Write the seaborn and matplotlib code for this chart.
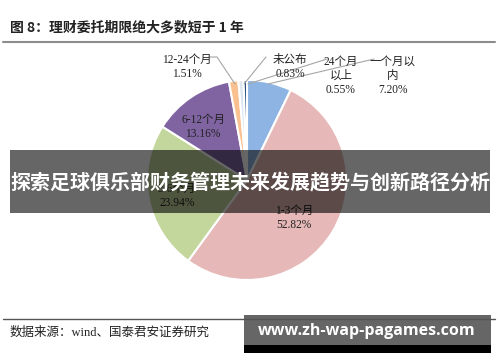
import matplotlib
matplotlib.use("Agg")
import matplotlib.pyplot as plt
import seaborn as sns
from matplotlib.patches import Rectangle
from matplotlib.lines import Line2D

# data (clockwise from 12 o'clock)
labels = ["一个月以内", "1-3个月", "3-6个月", "6-12个月", "12-24个月", "未公布", "24个月以上"]
shares = [7.20, 52.82, 23.94, 13.16, 1.51, 0.83, 0.55]
label_text = ["一个月以\n内\n7.20%", "1-3个月\n52.82%", "3-6个月\n23.94%", "6-12个月\n13.16%",
              "12-24个月\n1.51%", "未公布\n0.83%", "24个月\n以上\n0.55%"]
slice_colors = ["#8db4e2", "#e6b9b8", "#c3d69b", "#8064a2", "#fac090", "#dce6f2", "#1f497d"]

title = "图 8：理财委托期限绝大多数短于 1 年"
source = "数据来源：wind、国泰君安证券研究"
banner = "探索足球俱乐部财务管理未来发展趋势与创新路径分析"
watermark = "www.zh-wap-pagames.com"

sns.set_theme(style="white")
plt.rcParams["font.family"] = ["Noto Sans CJK SC", "DejaVu Sans"]
serif = ["Liberation Serif", "Noto Sans CJK SC"]

W, H = 500, 362
fig = plt.figure(figsize=(W / 100, H / 100), dpi=100)
fig.patch.set_facecolor("white")

def fx(px):
    return px / W

def fy(py):
    return 1 - py / H

# pie: centre ~ (247, 180) px, radius ~ 100 px
ax = fig.add_axes([fx(147), fy(280), fx(200), 200 / H])
wedges, _ = ax.pie(shares, colors=slice_colors, startangle=90, counterclock=False,
                   wedgeprops=dict(edgecolor="white", linewidth=1.5))
ax.set_xlim(-1, 1)
ax.set_ylim(-1, 1)
ax.set_aspect("auto")
ax.axis("off")

# inside labels (data coords)
inside = {1: (0.47, -0.38), 2: (-0.70, -0.16), 3: (-0.44, 0.53)}
for i, (x, y) in inside.items():
    ax.text(x, y, label_text[i], ha="center", va="center", fontsize=8.3,
            family=serif, color="#222222", linespacing=1.2)

# outside labels with leader lines (figure px positions)
outside = {4: (187, 67, [(209, 57), (217, 57), (235, 84)]),
           5: (290, 67, [(266, 57), (244, 84)]),
           6: (341, 76, [(327, 59), (248, 84)]),
           0: (393, 76, [(374, 59), (268, 84)])}
for i, (x, y, pts) in outside.items():
    fig.text(fx(x), fy(y), label_text[i], ha="center", va="center", fontsize=8.3,
             family=serif, color="#222222", linespacing=1.2)
    fig.add_artist(Line2D([fx(p[0]) for p in pts], [fy(p[1]) for p in pts],
                          color="#a6a6a6", lw=0.8))

# title + rules
fig.text(fx(10), fy(27), title, ha="left", va="center", fontsize=10, fontweight="bold",
         color="#222222")
fig.add_artist(Line2D([fx(3), fx(495)], [fy(42), fy(42)], color="#8c8c8c", lw=1.5))
fig.add_artist(Line2D([fx(3), fx(495)], [fy(319), fy(319)], color="#555555", lw=1.0))
fig.text(fx(10), fy(333), source, ha="left", va="center", fontsize=9, family=serif,
         color="#222222")

# overlay banner
fig.add_artist(Rectangle((fx(10), fy(213)), fx(480), 63 / H, transform=fig.transFigure,
                         facecolor="black", alpha=0.6, edgecolor="none"))
fig.text(fx(250), fy(182), banner, ha="center", va="center", fontsize=14.4, fontweight="bold",
         color="white")

# watermark box
fig.add_artist(Rectangle((fx(244), fy(345)), fx(247), 30 / H, transform=fig.transFigure,
                         facecolor="black", alpha=0.6, edgecolor="none"))
fig.add_artist(Rectangle((fx(244), fy(353)), fx(247), 8 / H, transform=fig.transFigure,
                         facecolor="black", edgecolor="none"))
fig.text(fx(367), fy(331), watermark, ha="center", va="center", fontsize=11.5,
         fontweight="bold", color="white", family=["Open Sans", "DejaVu Sans"])

fig.savefig("out.png", dpi=100)
